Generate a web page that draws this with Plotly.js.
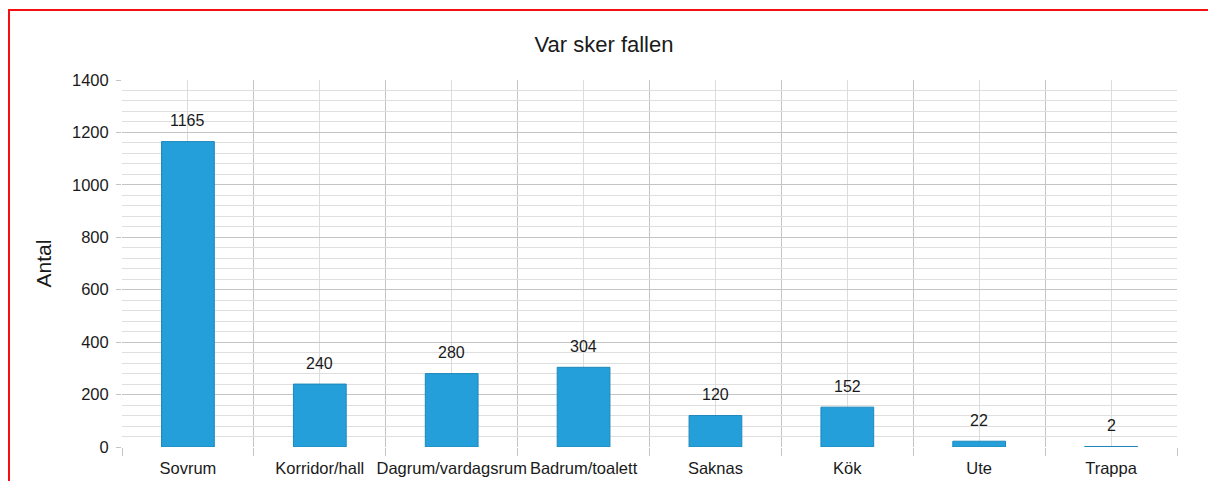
<!DOCTYPE html>
<html>
<head>
<meta charset="utf-8">
<script src="https://cdn.plot.ly/plotly-3.0.1.min.js"></script>
<style>
  html, body { margin: 0; padding: 0; background: #fff; }
  #wrap { position: relative; width: 1208px; height: 481px; overflow: hidden; }
  #chart { position: absolute; left: 0; top: 0; width: 1208px; height: 481px; }
  #frame { position: absolute; left: 8px; top: 9px; width: 1300px; height: 600px;
           border-left: 2px solid #f41010; border-top: 2px solid #f41010; pointer-events: none; }
</style>
</head>
<body>
<div id="wrap">
  <div id="chart"></div>
  <div id="frame"></div>
</div>
<script>
const categories = ["Sovrum", "Korridor/hall", "Dagrum/vardagsrum", "Badrum/toalett", "Saknas", "Kök", "Ute", "Trappa"];
const counts = [1165, 240, 280, 304, 120, 152, 22, 2];
const yTickVals = [0, 200, 400, 600, 800, 1000, 1200, 1400];
const chartTitle = "Var sker fallen";
const yTitle = "Antal";

const idx = categories.map((_, i) => i);
const bounds = [];
for (let i = 0; i <= categories.length; i++) bounds.push(i - 0.5);

const font = "Liberation Sans, Arial, sans-serif";

const trace = {
  type: "bar",
  x: idx,
  y: counts,
  marker: { color: "#259fd9", line: { color: "#1d87bb", width: 1 } },
  hoverinfo: "skip"
};

const annotations = counts.map((v, i) => ({
  x: i, y: v, xref: "x", yref: "y",
  text: String(v), showarrow: false,
  yanchor: "middle", yshift: 21,
  font: { family: font, size: 16, color: "#1a1a1a" }
}));

const layout = {
  width: 1208, height: 481,
  margin: { l: 122, r: 31, t: 80, b: 34 },
  paper_bgcolor: "#fff", plot_bgcolor: "#fff",
  showlegend: false,
  bargap: 0.6,
  title: {
    text: chartTitle, xref: "container", x: 0.5, xanchor: "center",
    yref: "container", y: 1 - 44 / 481, yanchor: "middle",
    font: { family: font, size: 22, color: "#1a1a1a" }
  },
  xaxis: {
    range: [-0.5, categories.length - 0.5],
    tickmode: "array", tickvals: idx, ticktext: categories,
    tickangle: 0, ticks: "", ticklabelstandoff: 9,
    showgrid: true, gridcolor: "#dcdcdc", gridwidth: 1,
    zeroline: false, showline: false, fixedrange: true,
    tickfont: { family: font, size: 16.5, color: "#1a1a1a" },
    minor: {
      tickmode: "array", tickvals: bounds,
      ticks: "outside", ticklen: 8, tickcolor: "#c4c4c4", tickwidth: 1,
      showgrid: true, gridcolor: "#c4c4c4", gridwidth: 1
    }
  },
  yaxis: {
    range: [0, 1400],
    tickmode: "array", tickvals: yTickVals,
    ticks: "outside", ticklen: 5, tickcolor: "#c4c4c4",
    ticklabelstandoff: 4,
    showgrid: true, gridcolor: "#c4c4c4", gridwidth: 1,
    zeroline: false, showline: false, fixedrange: true,
    tickfont: { family: font, size: 16.5, color: "#1a1a1a" },
    title: { text: yTitle, standoff: 14, font: { family: font, size: 21, color: "#1a1a1a" } },
    minor: { dtick: 40, showgrid: true, gridcolor: "#dfdfdf", gridwidth: 1, ticks: "" }
  },
  annotations: annotations
};

Plotly.newPlot("chart", [trace], layout, { displayModeBar: false, staticPlot: true });
</script>
</body>
</html>
